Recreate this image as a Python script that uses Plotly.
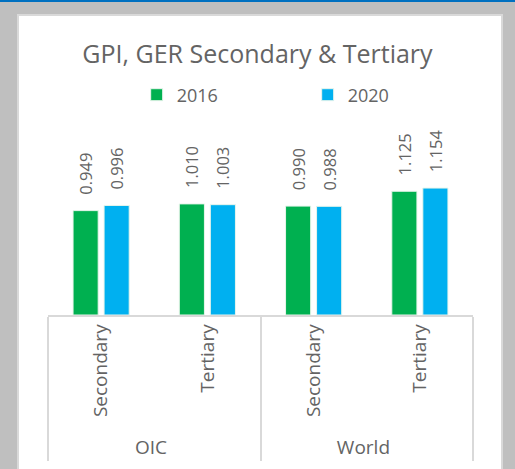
import plotly.graph_objects as go

# datos
grupos = ["OIC", "OIC", "World", "World"]
niveles = ["Secondary", "Tertiary", "Secondary", "Tertiary"]
gpi_2016 = [0.949, 1.010, 0.990, 1.125]
gpi_2020 = [0.996, 1.003, 0.988, 1.154]

W, H = 515, 469
ML, MR, MT, MB = 48, 42, 161, 154
FONT = "Open Sans"
GRIS_TXT = "#646464"


def px_x(v):
    return (v - ML) / (W - ML - MR)


def px_y(v):
    return (H - MB - v) / (H - MT - MB)


fig = go.Figure()

for nombre, valores, color in [("2016", gpi_2016, "#00B050"), ("2020", gpi_2020, "#00B0F0")]:
    fig.add_trace(go.Bar(
        x=[grupos, niveles],
        y=valores,
        name=nombre,
        marker=dict(color=color, line=dict(color="#E8F5EC", width=1)),
        text=["\u00a0\u00a0\u00a0" + f"{v:.3f}" for v in valores],
        textposition="outside",
        textangle=-90,
        constraintext="none",
        cliponaxis=False,
        textfont=dict(family=FONT, size=16.5, color=GRIS_TXT),
    ))

fig.update_layout(
    width=W,
    height=H,
    margin=dict(l=ML, r=MR, t=MT, b=MB, autoexpand=False),
    paper_bgcolor="#BFBFBF",
    plot_bgcolor="rgba(0,0,0,0)",
    barmode="group",
    bargap=0.416,
    bargroupgap=0.19,
    title=dict(
        text="GPI, GER Secondary & Tertiary",
        x=0.5, xanchor="center",
        y=1 - 54 / H, yanchor="middle",
        font=dict(family=FONT, size=25, color=GRIS_TXT),
    ),
    legend=dict(
        orientation="h",
        x=0.611, xanchor="center",
        y=px_y(95), yref="paper", yanchor="middle",
        font=dict(family=FONT, size=18, color=GRIS_TXT),
        entrywidth=126,
        bgcolor="rgba(0,0,0,0)",
    ),
    font=dict(family=FONT, color=GRIS_TXT),
    shapes=[
        # marco del grafico al estilo Excel
        dict(type="rect", xref="paper", yref="paper", layer="below",
             x0=px_x(0), x1=px_x(W), y0=px_y(0), y1=px_y(2),
             fillcolor="#0070C0", line=dict(width=0)),
        dict(type="rect", xref="paper", yref="paper", layer="below",
             x0=px_x(18), x1=px_x(502), y0=px_y(15), y1=px_y(H + 5),
             fillcolor="white", line=dict(color="#D9D9D9", width=2)),
    ],
)

fig.update_xaxes(
    type="multicategory",
    automargin=False,
    showline=True, linecolor="#D9D9D9", linewidth=1.5,
    showdividers=True, dividercolor="#D9D9D9", dividerwidth=1.5,
    tickangle=-90,
    tickfont=dict(family=FONT, size=19, color=GRIS_TXT),
    ticks="outside", ticklen=6, tickcolor="rgba(0,0,0,0)",
    showgrid=False,
)
fig.update_yaxes(range=[0, 1.4], visible=False, showgrid=False, automargin=False)

fig.write_html("out.html", config={"displayModeBar": False},
               post_script="document.body.style.margin='0';")
